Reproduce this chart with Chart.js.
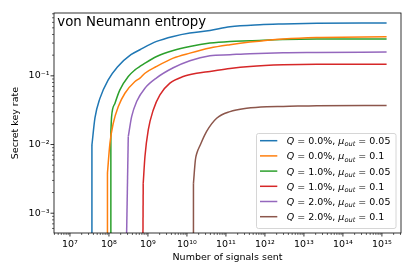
<!DOCTYPE html>
<html><head><meta charset="utf-8">
<script src="https://cdn.jsdelivr.net/npm/chart.js"></script>
<style>html,body{margin:0;padding:0;background:#fff;}#wrap{width:415px;height:277px;position:relative;}</style>
</head><body><div id="wrap"><canvas id="c" width="415" height="277"></canvas></div>
<script>
// ---- data ----
const seriesQ  = ['0.0%', '0.0%', '1.0%', '1.0%', '2.0%', '2.0%'];
const seriesMu = ['0.05', '0.1', '0.05', '0.1', '0.05', '0.1'];
const seriesColors = ['#1f77b4', '#ff7f0e', '#2ca02c', '#d62728', '#9467bd', '#8c564b'];

// first value of each series is where the curve leaves the bottom of the plot
const nQ0mu05 = [3.62e7, 3.66e7, 4.38e7, 5.87e7, 9.59e7, 1.65e8, 3.66e8, 6.24e8, 1.67e9, 4.46e9, 1.19e10, 3.89e10, 1.27e11, 7.45e11, 2.90e12, 2.15e13, 1.32e15];
const rQ0mu05 = [5e-4, 0.0098, 0.0244, 0.047, 0.0874, 0.135, 0.203, 0.240, 0.317, 0.375, 0.420, 0.458, 0.519, 0.556, 0.569, 0.581, 0.587];

const nQ0mu10 = [9.04e7, 9.16e7, 1.06e8, 1.29e8, 1.73e8, 2.57e8, 4.65e8, 6.24e8, 8.38e8, 1.67e9, 4.46e9, 1.19e10, 3.89e10, 1.27e11, 4.12e11, 2.94e12, 2.12e13, 1.32e15];
const rQ0mu10 = [5e-4, 0.00384, 0.01042, 0.0204, 0.0356, 0.0558, 0.0826, 0.0925, 0.109, 0.137, 0.181, 0.214, 0.254, 0.284, 0.310, 0.344, 0.362, 0.370];

const nQ1mu05 = [1.11e8, 1.12e8, 1.17e8, 1.43e8, 1.91e8, 3.13e8, 4.65e8, 6.24e8, 8.38e8, 1.67e9, 4.46e9, 1.19e10, 3.89e10, 1.27e11, 4.12e11, 2.90e12, 2.15e13, 1.32e15];
const rQ1mu05 = [5e-4, 0.0152, 0.0255, 0.0399, 0.0625, 0.0977, 0.122, 0.137, 0.153, 0.191, 0.234, 0.268, 0.300, 0.317, 0.324, 0.339, 0.344, 0.344];

const nQ1mu10 = [7.45e8, 7.57e8, 8.38e8, 1.02e9, 1.37e9, 2.03e9, 3.66e9, 8.04e9, 1.77e10, 3.89e10, 1.27e11, 4.12e11, 2.94e12, 2.12e13, 1.32e15];
const rQ1mu10 = [5e-4, 0.00272, 0.00664, 0.0163, 0.0319, 0.0528, 0.0782, 0.0977, 0.109, 0.116, 0.128, 0.137, 0.145, 0.148, 0.148];

const nQ2mu05 = [2.84e8, 3.13e8, 3.82e8, 5.13e8, 8.38e8, 1.67e9, 4.46e9, 1.19e10, 3.89e10, 1.27e11, 4.12e11, 2.94e12, 2.12e13, 1.32e15];
const rQ2mu05 = [5e-4, 0.0130, 0.0255, 0.0422, 0.0661, 0.0935, 0.131, 0.166, 0.196, 0.203, 0.210, 0.217, 0.219, 0.222];

const nQ2mu10 = [1.45e10, 1.47e10, 1.65e10, 1.81e10, 2.15e10, 3.20e10, 5.78e10, 1.27e11, 3.40e11, 1.11e12, 2.94e12, 2.12e13, 1.32e15];
const rQ2mu10 = [5e-4, 0.00272, 0.00600, 0.00760, 0.00960, 0.0155, 0.0241, 0.0301, 0.0337, 0.0356, 0.0359, 0.0368, 0.0371];

const xMajorTicks = [1e7, 1e8, 1e9, 1e10, 1e11, 1e12, 1e13, 1e14, 1e15];
const xTickLabels = ['10⁷', '10⁸', '10⁹', '10¹⁰', '10¹¹', '10¹²', '10¹³', '10¹⁴', '10¹⁵'];
const yMajorTicks = [1e-3, 1e-2, 1e-1];
const yTickLabels = ['10⁻³', '10⁻²', '10⁻¹'];
const xLimits = [3.9e6, 3.09e15];
const yLimits = [5.15e-4, 0.822];
const titleText = 'von Neumann entropy';
const xTitle = 'Number of signals sent';
const yTitle = 'Secret key rate';

// ---- build ----
const seriesN = [nQ0mu05, nQ0mu10, nQ1mu05, nQ1mu10, nQ2mu05, nQ2mu10];
const seriesR = [rQ0mu05, rQ0mu10, rQ1mu05, rQ1mu10, rQ2mu05, rQ2mu10];

function withMinors(lo, hi) {
  const out = [];
  const e0 = Math.floor(Math.log10(lo)), e1 = Math.ceil(Math.log10(hi));
  for (let e = e0; e <= e1; e++) for (let k = 1; k <= 9; k++) {
    const v = k * Math.pow(10, e);
    if (v >= lo && v <= hi) out.push(v);
  }
  return out;
}
const xTickValues = withMinors(xLimits[0], xLimits[1]);
const yTickValues = withMinors(yLimits[0], yLimits[1]);
function isMajor(v, majors) { return majors.some(m => Math.abs(v / m - 1) < 1e-6); }
function labelFor(v, majors, labels) {
  const i = majors.findIndex(m => Math.abs(v / m - 1) < 1e-6);
  return i >= 0 ? labels[i] : '';
}

const FONT = '"DejaVu Sans", "Liberation Sans", sans-serif';
Chart.defaults.color = '#000';
Chart.defaults.font.family = FONT;

const datasets = [];
seriesN.forEach((ns, i) => {
  const pts = ns.map((n, j) => ({ x: n, y: seriesR[i][j] }));
  // steep rise from the bottom edge (straight)
  datasets.push({
    label: 'drop ' + i, data: pts.slice(0, 2),
    borderColor: seriesColors[i], borderWidth: 1.5, pointRadius: 0, fill: false, tension: 0
  });
  // smooth curve
  datasets.push({
    label: 'Q = ' + seriesQ[i] + ', μout = ' + seriesMu[i], data: pts.slice(1),
    borderColor: seriesColors[i], backgroundColor: seriesColors[i],
    borderWidth: 1.5, pointRadius: 0, fill: false, cubicInterpolationMode: 'monotone'
  });
});

const axesPlugin = {
  id: 'mplAxes',
  afterDatasetsDraw(chart) {
    const { ctx, chartArea: a, scales: { x, y } } = chart;
    ctx.save();
    ctx.strokeStyle = '#000';
    xTickValues.forEach(v => {
      const px = x.getPixelForValue(v);
      const maj = isMajor(v, xMajorTicks);
      ctx.lineWidth = maj ? 0.8 : 0.6;
      ctx.beginPath(); ctx.moveTo(px, a.bottom); ctx.lineTo(px, a.bottom + (maj ? 3.5 : 2)); ctx.stroke();
    });
    yTickValues.forEach(v => {
      const py = y.getPixelForValue(v);
      const maj = isMajor(v, yMajorTicks);
      ctx.lineWidth = maj ? 0.8 : 0.6;
      ctx.beginPath(); ctx.moveTo(a.left, py); ctx.lineTo(a.left - (maj ? 3.5 : 2), py); ctx.stroke();
    });
    ctx.lineWidth = 0.8;
    ctx.strokeRect(a.left, a.top, a.right - a.left, a.bottom - a.top);
    ctx.fillStyle = '#000';
    ctx.font = '13.3px ' + FONT;
    ctx.textBaseline = 'alphabetic';
    ctx.textAlign = 'left';
    ctx.fillText(titleText, a.left + 3.3, a.top + 13);
    ctx.restore();
  },
  afterDraw(chart) {
    const { ctx } = chart;
    const bx = 256.5, by = 133.5, bw = 139.5, bh = 95, r = 2;
    ctx.save();
    ctx.beginPath();
    ctx.moveTo(bx + r, by); ctx.lineTo(bx + bw - r, by); ctx.arcTo(bx + bw, by, bx + bw, by + r, r);
    ctx.lineTo(bx + bw, by + bh - r); ctx.arcTo(bx + bw, by + bh, bx + bw - r, by + bh, r);
    ctx.lineTo(bx + r, by + bh); ctx.arcTo(bx, by + bh, bx, by + bh - r, r);
    ctx.lineTo(bx, by + r); ctx.arcTo(bx, by, bx + r, by, r); ctx.closePath();
    ctx.fillStyle = 'rgba(255,255,255,0.8)'; ctx.fill();
    ctx.strokeStyle = '#cccccc'; ctx.lineWidth = 0.8; ctx.stroke();
    const fs = 9.5;
    const reg = fs + 'px ' + FONT, ita = 'italic ' + fs + 'px ' + FONT, sub = 'italic ' + (fs * 0.7).toFixed(2) + 'px ' + FONT;
    seriesQ.forEach((q, i) => {
      const ry = 140.7 + i * 15.2;
      ctx.strokeStyle = seriesColors[i]; ctx.lineWidth = 1.5;
      ctx.beginPath(); ctx.moveTo(260, ry); ctx.lineTo(277.3, ry); ctx.stroke();
      ctx.fillStyle = '#000'; ctx.textBaseline = 'alphabetic'; ctx.textAlign = 'left';
      let tx = 286.7;
      const base = ry + 3.5;
      [[ita, 'Q', 0], [reg, ' = ' + q + ', ', 0], [ita, 'μ', 0], [sub, 'out', 2.2], [reg, ' = ' + seriesMu[i], 0]].forEach(([f, t, dy]) => {
        ctx.font = f; ctx.fillText(t, tx, base + dy); tx += ctx.measureText(t).width;
      });
    });
    ctx.restore();
  }
};

new Chart(document.getElementById('c'), {
  type: 'line',
  data: { datasets },
  options: {
    responsive: false,
    animation: false,
    events: [],
    layout: { padding: { left: 0, right: 14, top: 13, bottom: 0 } },
    plugins: { legend: { display: false }, tooltip: { enabled: false }, title: { display: false } },
    scales: {
      x: {
        type: 'logarithmic', position: 'bottom', min: xLimits[0], max: xLimits[1], bounds: 'data', offset: false,
        afterBuildTicks: s => { s.ticks = xTickValues.map(v => ({ value: v })); },
        afterFit: s => { s.height = 44; },
        grid: { display: true, drawOnChartArea: false, drawTicks: false, tickLength: 0 },
        border: { display: false },
        ticks: { autoSkip: false, maxRotation: 0, minRotation: 0, padding: 5.8, font: { size: 9.5, family: FONT }, color: '#000',
          callback: v => labelFor(v, xMajorTicks, xTickLabels) },
        title: { display: true, text: xTitle, font: { size: 9.5, family: FONT }, color: '#000', padding: { top: 0, bottom: 13.8 } }
      },
      y: {
        type: 'logarithmic', position: 'left', min: yLimits[0], max: yLimits[1], bounds: 'data',
        afterBuildTicks: s => { s.ticks = yTickValues.map(v => ({ value: v })); },
        afterFit: s => { s.width = 54; },
        grid: { display: true, drawOnChartArea: false, drawTicks: false, tickLength: 0 },
        border: { display: false },
        ticks: { autoSkip: false, padding: 4.5, font: { size: 9.5, family: FONT }, color: '#000',
          callback: v => labelFor(v, yMajorTicks, yTickLabels) },
        title: { display: true, text: yTitle, font: { size: 9.5, family: FONT }, color: '#000', padding: { top: 9.8, bottom: 0 } }
      }
    }
  },
  plugins: [axesPlugin]
});
</script></body></html>
